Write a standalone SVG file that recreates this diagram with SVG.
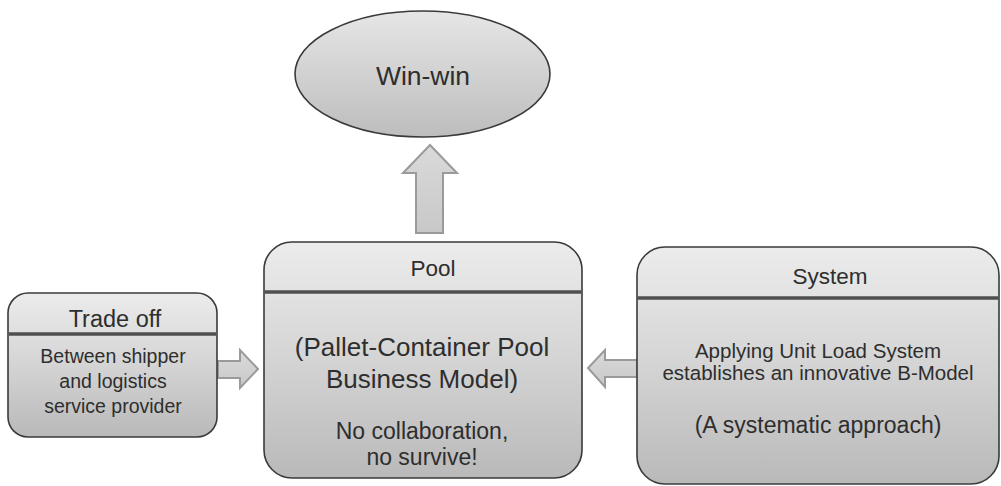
<svg xmlns="http://www.w3.org/2000/svg" width="1001" height="486" viewBox="0 0 1001 486">
<defs>
<linearGradient id="boxg" x1="0" y1="0" x2="0" y2="1">
<stop offset="0" stop-color="#ececec"/>
<stop offset="0.5" stop-color="#d4d4d4"/>
<stop offset="1" stop-color="#b9b9b9"/>
</linearGradient>
<linearGradient id="ellg" x1="0" y1="0" x2="0" y2="1">
<stop offset="0" stop-color="#e6e6e6"/>
<stop offset="1" stop-color="#bdbdbd"/>
</linearGradient>
<linearGradient id="arrg" x1="0" y1="0" x2="0" y2="1">
<stop offset="0" stop-color="#dadada"/>
<stop offset="1" stop-color="#c8c8c8"/>
</linearGradient>
</defs>
<style>
.box{fill:url(#boxg);stroke:#3a3a3a;stroke-width:1.6}
.div{stroke:#4f4f4f;stroke-width:3.5}
.arrow{fill:url(#arrg);stroke:#9a9a9a;stroke-width:2;stroke-linejoin:miter}
text{font-family:"Liberation Sans",Arial,sans-serif;fill:#2e2e2e;text-anchor:middle}
.ttl{font-size:22.5px}
.sm{font-size:19.5px}
.md{font-size:20.5px}
.lg{font-size:26px}
</style>
<g id="connectors">
<polygon class="arrow" points="416,233 416,173 403,173 430,145 457,173 443,173 443,233"/>
<polygon class="arrow" points="218,361 240,361 240,350 258,369 240,388 240,378 218,378"/>
<polygon class="arrow" points="637,360 605,360 605,350 588,368 605,387 605,377 637,377"/>
</g>
<g id="winwin">
<ellipse cx="422.5" cy="74" rx="127.5" ry="63" fill="url(#ellg)" stroke="#3a3a3a" stroke-width="1.6"/>
<text style="font-size:26.5px" x="423" y="85">Win-win</text>
</g>
<g id="tradeoff">
<rect class="box" x="8" y="293" width="209" height="144" rx="20"/>
<line class="div" x1="8.8" y1="334" x2="216.2" y2="334"/>
<text style="font-size:23.5px" x="115" y="327">Trade off</text>
<text class="sm" x="113" y="363">Between shipper</text>
<text class="sm" x="113" y="388">and logistics</text>
<text class="sm" x="113" y="413">service provider</text>
</g>
<g id="pool">
<rect class="box" x="264" y="242" width="318" height="236" rx="28"/>
<line class="div" x1="264.8" y1="292" x2="581.2" y2="292"/>
<text class="ttl" x="433" y="276">Pool</text>
<text class="lg" x="422" y="356">(Pallet-Container Pool</text>
<text class="lg" x="422" y="388">Business Model)</text>
<text style="font-size:23px" x="422" y="439">No collaboration,</text>
<text style="font-size:23px" x="422" y="465">no survive!</text>
</g>
<g id="system">
<rect class="box" x="637" y="247" width="362" height="237" rx="28"/>
<line class="div" x1="637.8" y1="298" x2="998.2" y2="298"/>
<text class="ttl" x="830" y="284">System</text>
<text class="md" x="818" y="358">Applying Unit Load System</text>
<text class="md" x="818" y="380">establishes an innovative B-Model</text>
<text style="font-size:23px" x="818" y="433">(A systematic approach)</text>
</g>
</svg>
